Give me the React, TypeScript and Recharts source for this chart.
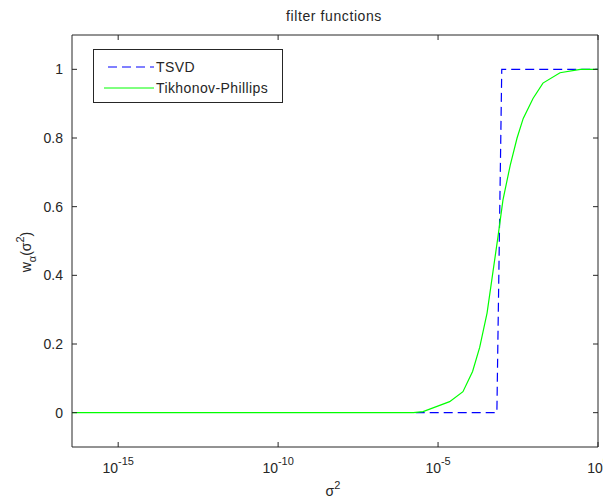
import { LineChart, Line, XAxis, YAxis, Legend, ReferenceLine } from 'recharts';

// sigma^2 on a log axis
const tsvdX = [2e-6, 6.9e-4, 9.8e-4, 1];
const tsvdY = [0, 0, 1, 1];

const tikX = [
  3.6e-17, 1e-12, 1e-8, 1.7e-6, 3.4e-6, 2.3e-5, 6e-5, 1.2e-4, 2e-4, 3.4e-4, 5.2e-4,
  7.4e-4, 1.07e-3, 1.8e-3, 2.95e-3, 4.6e-3, 9.3e-3, 1.9e-2, 6.5e-2, 2.8e-1, 1,
];
const tikY = [
  0, 0, 0, 0, 0.003, 0.032, 0.061, 0.12, 0.19, 0.29, 0.41,
  0.51, 0.62, 0.72, 0.8, 0.857, 0.915, 0.96, 0.99, 1, 1,
];

const xTicks = [1e-15, 1e-10, 1e-5, 1];
const xTickExp = ['-15', '-10', '-5', '0'];
const yTicks = [0, 0.2, 0.4, 0.6, 0.8, 1];

const tsvd = tsvdX.map((x, i) => ({ x, y: tsvdY[i] }));
const tik = tikX.map((x, i) => ({ x, y: tikY[i] }));

const font = '"Liberation Sans", Arial, sans-serif';
const ink = '#262626';
const left = 72;
const right = 598;
const top = 35;
const bottom = 447;
const tick = 5;

function XTick(props: any) {
  const { x, index } = props;
  return (
    <g>
      <line x1={x} y1={bottom} x2={x} y2={bottom - tick} stroke={ink} />
      <line x1={x} y1={top} x2={x} y2={top + tick} stroke={ink} />
      <text x={x} y={473} textAnchor="middle" fontSize={14} fill={ink} fontFamily={font}>
        <tspan>10</tspan>
        <tspan dy={-8} fontSize={11}>{xTickExp[index]}</tspan>
      </text>
    </g>
  );
}

function YTick(props: any) {
  const { y, payload } = props;
  return (
    <g>
      <line x1={left} y1={y} x2={left + tick} y2={y} stroke={ink} />
      <line x1={right} y1={y} x2={right - tick} y2={y} stroke={ink} />
      <text x={63} y={y + 5} textAnchor="end" fontSize={14} fill={ink} fontFamily={font}>
        {payload.value}
      </text>
    </g>
  );
}

const legendItems = [
  { name: 'TSVD', color: '#0000ff', dash: '9 5' },
  { name: 'Tikhonov-Phillips', color: '#00ff00', dash: undefined },
];

function LegendBox() {
  return (
    <div
      style={{
        width: 190,
        height: 54,
        border: `1px solid ${ink}`,
        background: '#fff',
        boxSizing: 'border-box',
        position: 'relative',
      }}
    >
      {legendItems.map((item, i) => (
        <div key={item.name} style={{ position: 'absolute', left: 0, top: 7 + i * 21, height: 20, display: 'flex', alignItems: 'center' }}>
          <svg width={62} height={20}>
            <line x1={i === 0 ? 14 : 10} y1={10} x2={60} y2={10} stroke={item.color} strokeDasharray={item.dash} />
          </svg>
          <span style={{ fontFamily: font, fontSize: 14, color: ink, letterSpacing: 0.4 }}>{item.name}</span>
        </div>
      ))}
    </div>
  );
}

export default function App() {
  return (
    <div style={{ position: 'absolute', left: 0, top: 0, width: 603, height: 501, background: '#fff' }}>
      <svg width={603} height={501} style={{ position: 'absolute', left: 0, top: 0 }}>
        <text x={334} y={21} textAnchor="middle" fontSize={14} fill={ink} fontFamily={font} letterSpacing={0.6}>
          filter functions
        </text>
        <text x={333} y={496} textAnchor="middle" fontSize={14} fill={ink} fontFamily={font}>
          <tspan>σ</tspan>
          <tspan dy={-7} fontSize={11}>2</tspan>
        </text>
        <text transform="translate(31,252) rotate(-90)" textAnchor="middle" fontSize={14} fill={ink} fontFamily={font}>
          <tspan>w</tspan>
          <tspan dy={5} fontSize={11}>α</tspan>
          <tspan dy={-5}>(σ</tspan>
          <tspan dy={-7} fontSize={11}>2</tspan>
          <tspan dy={7}>)</tspan>
        </text>
      </svg>
      <LineChart
        width={603}
        height={501}
        margin={{ top: top, right: 603 - right, left: 0, bottom: 0 }}
        style={{ position: 'absolute', left: 0, top: 0 }}
      >
        <XAxis
          dataKey="x"
          type="number"
          scale="log"
          domain={[3.6e-17, 1]}
          allowDataOverflow
          ticks={xTicks}
          tick={<XTick />}
          tickLine={false}
          axisLine={{ stroke: ink }}
          height={501 - bottom}
        />
        <YAxis
          type="number"
          domain={[-0.1, 1.1]}
          ticks={yTicks}
          tick={<YTick />}
          tickLine={false}
          axisLine={{ stroke: ink }}
          width={left}
          allowDataOverflow
        />
        <ReferenceLine y={1.1} stroke={ink} />
        <ReferenceLine x={1} stroke={ink} />
        <Line data={tsvd} dataKey="y" name="TSVD" stroke="#0000ff" strokeDasharray="9 5" strokeWidth={1.2} dot={false} isAnimationActive={false} />
        <Line data={tik} dataKey="y" name="Tikhonov-Phillips" stroke="#00ff00" strokeWidth={1.2} dot={false} isAnimationActive={false} />
        <Legend
          layout="horizontal"
          verticalAlign="middle"
          align="center"
          content={<LegendBox />}
          wrapperStyle={{ left: 93, top: 49, width: 190, height: 54 }}
        />
      </LineChart>
    </div>
  );
}
